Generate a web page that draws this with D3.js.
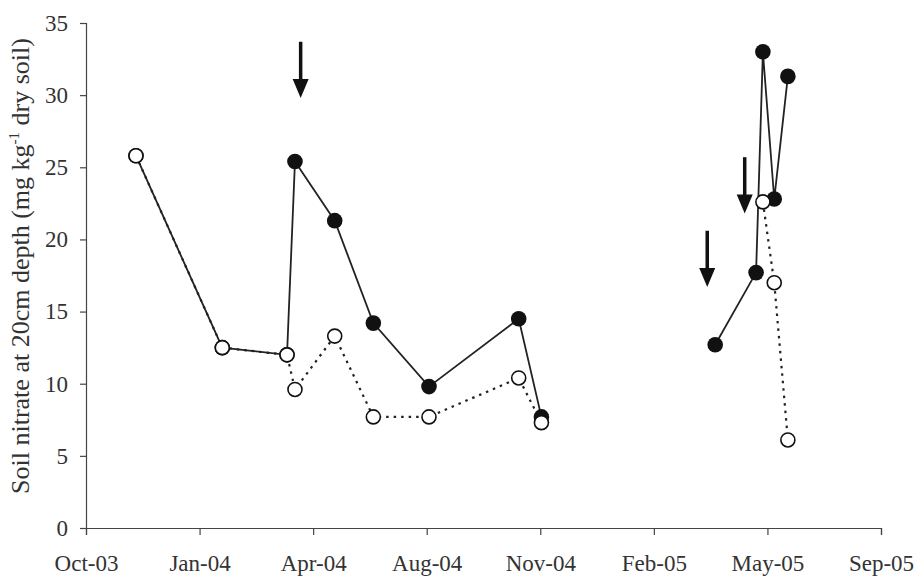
<!DOCTYPE html>
<html>
<head>
<meta charset="utf-8">
<script src="https://cdn.jsdelivr.net/npm/d3@7/dist/d3.min.js"></script>
<style>
    body { margin: 0; background: #fff; }
    svg { display: block; }
    text { font-family: "Liberation Serif", "Times New Roman", serif; fill: #333; }
</style>
</head>
<body>
<div id="nitrate-chart"></div>
<script>
// sampling dates (shared by both plots)
var sampleDates = ["2003-11-19", "2004-02-03", "2004-03-31", "2004-04-07", "2004-05-12",
    "2004-06-15", "2004-08-03", "2004-10-21", "2004-11-10", "2005-04-12",
    "2005-05-18", "2005-05-24", "2005-06-03", "2005-06-15"];
// season of each sample, lines are not joined across seasons
var seasons = [2004, 2004, 2004, 2004, 2004, 2004, 2004, 2004, 2004, 2005, 2005, 2005, 2005, 2005];
// filled circles (fertilised)
var fertilised = [25.8, 12.5, 12.0, 25.4, 21.3, 14.2, 9.8, 14.5, 7.7, 12.7, 17.7, 33.0, 22.8, 31.3];
// open circles (control), null = not sampled
var control = [25.8, 12.5, 12.0, 9.6, 13.3, 7.7, 7.7, 10.4, 7.3, null, null, 22.6, 17.0, 6.1];

// fertiliser applications (arrows): date, top of shaft, tip
var arrowDates = ["2004-04-12", "2005-04-05", "2005-05-08"];
var arrowTop = [33.7, 20.6, 25.7];
var arrowTip = [29.8, 16.7, 21.8];

var yTicks = [0, 5, 10, 15, 20, 25, 30, 35];
var axisStart = "2003-10-06";
var tickStepDays = 100; // excel date axis, major unit 100 days
var tickCount = 8;

var parse = d3.timeParse("%Y-%m-%d");
var width = 917, height = 580;

var svg = d3.select("#nitrate-chart").append("svg")
    .attr("width", width)
    .attr("height", height);

var start = parse(axisStart);
var xTickValues = d3.range(tickCount).map(function (i) {
    return d3.timeDay.offset(start, i * tickStepDays);
});

var x = d3.scaleTime()
    .domain([start, xTickValues[tickCount - 1]])
    .range([86, 881]);
var y = d3.scaleLinear()
    .domain([0, 35])
    .range([528, 23]);

// axes
var xAxis = svg.append("g")
    .attr("transform", "translate(0,528)")
    .call(d3.axisBottom(x).tickValues(xTickValues).tickFormat(d3.timeFormat("%b-%y")).tickSizeOuter(0).tickSize(7).tickPadding(20));
var yAxis = svg.append("g")
    .attr("transform", "translate(86,0)")
    .call(d3.axisLeft(y).tickValues(yTicks).tickSizeOuter(0).tickSize(6).tickPadding(12));

[xAxis, yAxis].forEach(function (a) {
    a.selectAll("path, line").attr("stroke", "#444").attr("stroke-width", 1.2);
    a.selectAll("text").attr("font-size", 23).attr("fill", "#333")
        .style("font-family", "'Liberation Serif', serif");
});

// y label
var ylab = svg.append("text")
    .attr("transform", "translate(29,266) rotate(-90)")
    .attr("text-anchor", "middle")
    .attr("font-size", 26);
ylab.append("tspan").text("Soil nitrate at 20cm depth (mg kg");
ylab.append("tspan").attr("font-size", 15).attr("dy", -10).text("-1");
ylab.append("tspan").attr("dy", 10).text(" dry soil)");

// build rows
var rows = sampleDates.map(function (d, i) {
    return { date: parse(d), season: seasons[i], fert: fertilised[i], ctrl: control[i] };
});

var lineFor = function (key) {
    return d3.line()
        .defined(function (d) { return d[key] !== null; })
        .x(function (d) { return x(d.date); })
        .y(function (d) { return y(d[key]); });
};

var bySeason = d3.groups(rows, function (d) { return d.season; });

// control - dotted
bySeason.forEach(function (g) {
    svg.append("path")
        .datum(g[1])
        .attr("fill", "none")
        .attr("stroke", "#222")
        .attr("stroke-width", 2.2)
        .attr("stroke-dasharray", "2.5,5")
        .attr("d", lineFor("ctrl"));
});
// fertilised - solid
bySeason.forEach(function (g) {
    svg.append("path")
        .datum(g[1])
        .attr("fill", "none")
        .attr("stroke", "#222")
        .attr("stroke-width", 1.8)
        .attr("d", lineFor("fert"));
});

svg.selectAll(".fert-pt")
    .data(rows)
    .enter().append("circle")
    .attr("class", "fert-pt")
    .attr("cx", function (d) { return x(d.date); })
    .attr("cy", function (d) { return y(d.fert); })
    .attr("r", 7.8)
    .attr("fill", "#111");

svg.selectAll(".ctrl-pt")
    .data(rows.filter(function (d) { return d.ctrl !== null; }))
    .enter().append("circle")
    .attr("class", "ctrl-pt")
    .attr("cx", function (d) { return x(d.date); })
    .attr("cy", function (d) { return y(d.ctrl); })
    .attr("r", 7)
    .attr("fill", "#fff")
    .attr("stroke", "#111")
    .attr("stroke-width", 1.6);

// arrows
var arrows = arrowDates.map(function (d, i) {
    return { date: parse(d), top: arrowTop[i], tip: arrowTip[i] };
});
var ag = svg.selectAll(".arrow")
    .data(arrows)
    .enter().append("g")
    .attr("class", "arrow");
ag.append("line")
    .attr("x1", function (d) { return x(d.date); })
    .attr("x2", function (d) { return x(d.date); })
    .attr("y1", function (d) { return y(d.top); })
    .attr("y2", function (d) { return y(d.tip) - 12; })
    .attr("stroke", "#111")
    .attr("stroke-width", 3.5);
ag.append("path")
    .attr("fill", "#111")
    .attr("d", function (d) {
        var cx = x(d.date), ty = y(d.tip);
        return "M" + (cx - 8) + "," + (ty - 19) + "L" + (cx + 8) + "," + (ty - 19) + "L" + cx + "," + ty + "Z";
    });
</script>
</body>
</html>
